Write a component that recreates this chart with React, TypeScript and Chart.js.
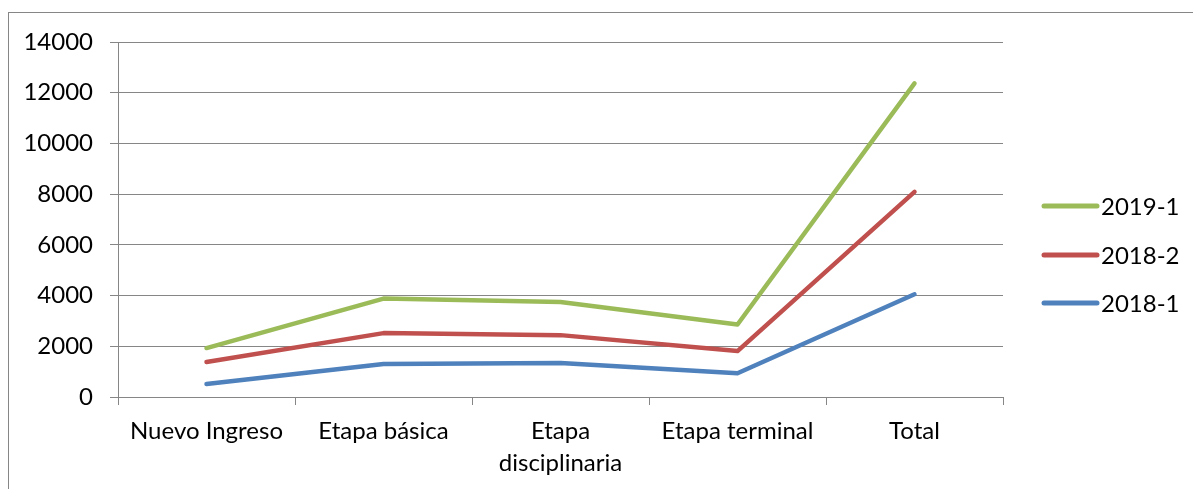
import React, { useEffect, useRef } from "react";
import { Chart, registerables } from "chart.js";

Chart.register(...registerables);

const categories: (string | string[])[] = [
  "Nuevo Ingreso",
  "Etapa básica",
  ["Etapa", "disciplinaria"],
  "Etapa terminal",
  "Total",
];
const seriesNames = ["2019-1", "2018-2", "2018-1"];
const values2019_1 = [1930, 3880, 3750, 2860, 12370];
const values2018_2 = [1380, 2520, 2440, 1810, 8090];
const values2018_1 = [510, 1300, 1340, 935, 4050];
const colors = ["#9BBB59", "#C0504D", "#4F81BD"];

const FONT = "Lato, 'Open Sans', sans-serif";
const FS = 24;

const legendPlugin = {
  id: "customLegend",
  afterDraw(chart: any) {
    const ctx = chart.ctx;
    const ys = [206, 255, 303];
    ctx.save();
    chart.data.datasets.forEach((ds: any, i: number) => {
      const y = ys[i];
      ctx.strokeStyle = ds.borderColor;
      ctx.lineWidth = 5;
      ctx.lineCap = "round";
      ctx.beginPath();
      ctx.moveTo(1044, y);
      ctx.lineTo(1097, y);
      ctx.stroke();
      ctx.fillStyle = "#000";
      ctx.font = `${FS}px ${FONT}`;
      ctx.textBaseline = "middle";
      ctx.textAlign = "left";
      ctx.fillText(ds.label, 1101, y + 1);
    });
    ctx.restore();
  },
};

export default function App() {
  const ref = useRef<HTMLCanvasElement>(null);
  useEffect(() => {
    if (!ref.current) return;
    const data = [values2019_1, values2018_2, values2018_1];
    const chart = new Chart(ref.current, {
      type: "line",
      data: {
        labels: categories,
        datasets: seriesNames.map((name, i) => ({
          label: name,
          data: data[i],
          borderColor: colors[i],
          backgroundColor: colors[i],
          borderWidth: 4.5,
          pointRadius: 0,
          tension: 0,
          borderCapStyle: "round" as const,
          borderJoinStyle: "round" as const,
        })),
      },
      options: {
        responsive: false,
        animation: false,
        devicePixelRatio: 1,
        layout: { padding: { top: 42, right: 190, bottom: 0, left: 0 } },
        plugins: { legend: { display: false }, tooltip: { enabled: false } },
        scales: {
          x: {
            offset: true,
            grid: {
              display: true,
              drawOnChartArea: false,
              drawTicks: true,
              tickLength: 8,
              color: "#868686",
              offset: true,
            },
            border: { display: true, color: "#868686", width: 1 },
            ticks: {
              color: "#000",
              font: { family: FONT, size: FS, lineHeight: 1.3 },
              padding: 11,
              maxRotation: 0,
              autoSkip: false,
            },
            afterFit: (scale: any) => {
              scale.height = 92;
            },
          },
          y: {
            min: 0,
            max: 14000,
            ticks: {
              stepSize: 2000,
              color: "#000",
              font: { family: FONT, size: FS },
              padding: 17,
              callback: (v: any) => String(v),
            },
            grid: {
              color: "#868686",
              lineWidth: 1,
              drawTicks: true,
              tickLength: 8,
            },
            border: { display: true, color: "#868686", width: 1 },
            afterFit: (scale: any) => {
              scale.width = 118;
            },
          },
        },
      },
      plugins: [legendPlugin],
    });
    return () => chart.destroy();
  }, []);

  return (
    <div
      style={{
        position: "fixed",
        left: 0,
        top: 0,
        width: 1193,
        height: 489,
        background: "#fff",
        overflow: "hidden",
      }}
    >
      <div
        style={{
          position: "absolute",
          left: 8,
          top: 12,
          width: 1300,
          height: 600,
          border: "1px solid #868686",
        }}
      />
      <canvas
        ref={ref}
        width={1193}
        height={489}
        style={{ position: "absolute", left: 0, top: 0 }}
      />
    </div>
  );
}
